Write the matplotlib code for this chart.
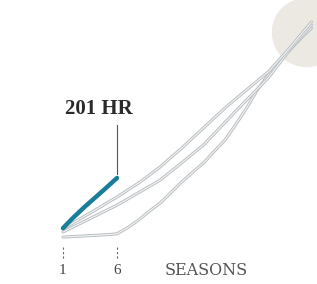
import matplotlib
matplotlib.use("Agg")
import matplotlib.pyplot as plt
import matplotlib.patheffects as pe

# cumulative home runs by season
seasons = list(range(1, 25))
hr_a = [3, 5, 7, 9, 11, 14, 35, 60, 90, 117, 152, 188, 220, 251, 290, 328, 380, 435, 496, 546, 590, 630, 668, 703]
hr_b = [20, 38, 56, 74, 92, 110, 131, 152, 173, 194, 223, 252, 282, 311, 349, 387, 425, 462, 499, 536, 583, 630, 672, 713]
hr_c = [30, 52, 73, 94, 116, 137, 161, 184, 211, 238, 270, 301, 335, 368, 402, 435, 466, 496, 526, 556, 596, 636, 680, 723]

blue_seasons = [1, 2, 3, 4, 5, 6]
blue_hr = [33, 70, 104, 136, 168, 201]

tick_seasons = [1, 6]
tick_labels = ["1", "6"]

fig = plt.figure(figsize=(3.17, 2.84), dpi=100)
ax = fig.add_axes([0, 0, 1, 1])
ax.set_xlim(-4.83, 24.52)
ax.set_ylim(-154, 797)
ax.axis("off")

# highlight circle at the end of the long careers
ax.scatter([23.5], [690], s=2500, color="#ebe9e1", zorder=1, linewidths=0)

outline = [pe.Stroke(linewidth=2.2, foreground="#b9bdc0"), pe.Normal()]
for hr in (hr_a, hr_b, hr_c):
    ax.plot(seasons, hr, color="#eef0f1", lw=0.9, zorder=2,
            path_effects=outline, solid_capstyle="round")

ax.plot(blue_seasons, blue_hr, color="#1b7e98", lw=3.2, zorder=3,
        solid_capstyle="round")

# annotation
ax.plot([6, 6], [214, 378], color="#555555", lw=0.8, zorder=3)
ax.text(4.3, 432, "201 HR", ha="center", va="center", fontsize=15,
        family="Liberation Serif", weight="bold", color="#2a2a2a")

# axis ticks
for s, lab in zip(tick_seasons, tick_labels):
    ax.plot([s, s], [-30, -74], color="#666666", lw=0.8, ls=(0, (2, 2)))
    ax.text(s, -110, lab, ha="center", va="center", fontsize=11,
            family="Liberation Serif", color="#444444")
ax.text(10.4, -110, "SEASONS", ha="left", va="center", fontsize=11.5,
        family="DejaVu Serif", color="#555555")

fig.savefig("out.png", dpi=100)
